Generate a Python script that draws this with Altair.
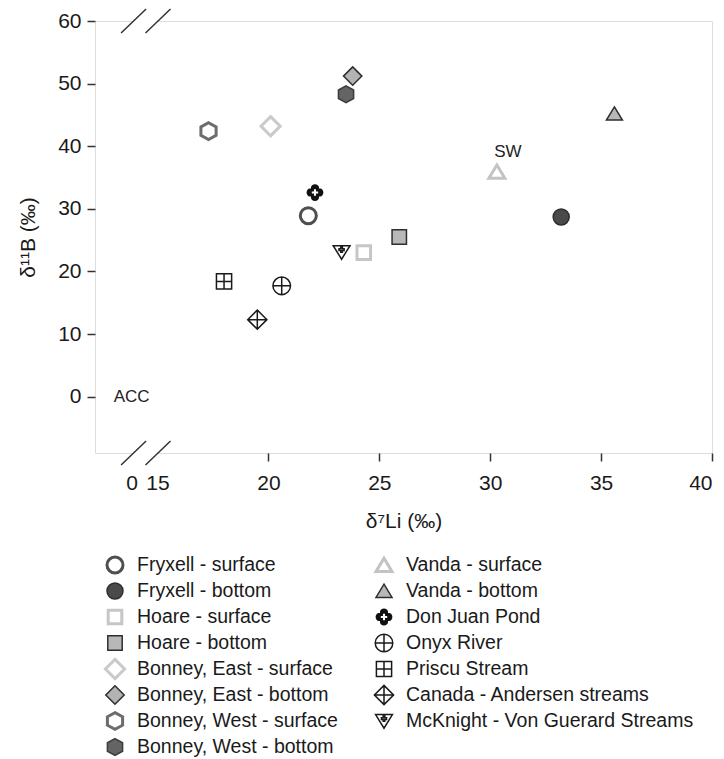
import altair as alt
import pandas as pd

# ---------------- data ----------------
names = [
    "Fryxell - surface", "Fryxell - bottom", "Hoare - surface", "Hoare - bottom",
    "Bonney, East - surface", "Bonney, East - bottom", "Bonney, West - surface",
    "Bonney, West - bottom", "Vanda - surface", "Vanda - bottom", "Don Juan Pond",
    "Onyx River", "Priscu Stream", "Canada - Andersen streams",
    "McKnight - Von Guerard Streams",
]
li = [21.8, 33.2, 24.3, 25.9, 20.1, 23.8, 17.3, 23.5, 30.3, 35.6, 22.1, 20.6, 18.0, 19.5, 23.3]
b = [28.9, 28.7, 23.0, 25.5, 43.2, 51.2, 42.4, 48.3, 35.9, 45.2, 32.6, 17.7, 18.4, 12.3, 23.1]

ref_labels = ["ACC", "SW"]
ref_li = [0.0, 30.8]
ref_b = [0.0, 39.0]

x_ticks = [0, 15, 20, 25, 30, 35, 40]
y_ticks = [0, 10, 20, 30, 40, 50, 60]
x_break = [0.8, 15.0]
y_ends = [-9, 60]
legend_rows = 8

# ---------------- styles ----------------
FONT = "Liberation Sans"
TXT = "#1a1a1a"

sq_s = "M-0.85,-0.85L0.85,-0.85L0.85,0.85L-0.85,0.85Z"
sq_b = "M-0.9,-0.9L0.9,-0.9L0.9,0.9L-0.9,0.9Z"
dia_s = "M0,-1.2L1.2,0L0,1.2L-1.2,0Z"
dia_b = "M0,-1.15L1.15,0L0,1.15L-1.15,0Z"
hexa = "M0,-1.05L0.95,-0.525L0.95,0.525L0,1.05L-0.95,0.525L-0.95,-0.525Z"
tri = "M0,-0.85L1.0,0.8L-1.0,0.8Z"
donjuan = ("M-0.5,-0.5L-0.5,-0.65A0.5,0.4 0 0,1 0.5,-0.65L0.5,-0.5L0.65,-0.5"
           "A0.4,0.5 0 0,1 0.65,0.5L0.5,0.5L0.5,0.65A0.5,0.4 0 0,1 -0.5,0.65"
           "L-0.5,0.5L-0.65,0.5A0.4,0.5 0 0,1 -0.65,-0.5Z"
           "M-0.13,-0.4L-0.13,-0.13L-0.4,-0.13L-0.4,0.13L-0.13,0.13L-0.13,0.4"
           "L0.13,0.4L0.13,0.13L0.4,0.13L0.4,-0.13L0.13,-0.13L0.13,-0.4Z")
onyx = "M-1.1,0A1.1,1.1 0 1,1 1.1,0A1.1,1.1 0 1,1 -1.1,0ZM-1.1,0L1.1,0M0,-1.1L0,1.1"
priscu = "M-0.95,-0.95L0.95,-0.95L0.95,0.95L-0.95,0.95ZM-0.95,0L0.95,0M0,-0.95L0,0.95"
canada = "M0,-1.2L1.2,0L0,1.2L-1.2,0ZM-1.2,0L1.2,0M0,-1.2L0,1.2"
mcknight = ("M-1.05,-0.8L1.05,-0.8L0,0.9Z"
            "M-0.1,-0.62L0.1,-0.62L0.1,-0.4L0.32,-0.4L0.32,-0.2L0.1,-0.2L0.1,0.02"
            "L-0.1,0.02L-0.1,-0.2L-0.32,-0.2L-0.32,-0.4L-0.1,-0.4Z")

shape_range = ["circle", "circle", sq_s, sq_b, dia_s, dia_b, hexa, hexa, tri, tri,
               donjuan, onyx, priscu, canada, mcknight]
fill_range = ["white", "#4a4a4a", "white", "#b8b8b8", "white", "#b3b3b3", "white", "#646464",
              "white", "#b8b8b8", "#111111", "white", "white", "white", "white"]
stroke_range = ["#4f4f4f", "#2e2e2e", "#c6c6c6", "#2e2e2e", "#cacaca", "#2e2e2e", "#6c6c6c",
                "#3c3c3c", "#c3c3c3", "#2e2e2e", "transparent", "#1a1a1a", "#1a1a1a",
                "#1a1a1a", "#1a1a1a"]

shape_enc = alt.Shape("name:N", scale=alt.Scale(domain=names, range=shape_range), legend=None)
fill_enc = alt.Fill("name:N", scale=alt.Scale(domain=names, range=fill_range), legend=None)
stroke_enc = alt.Stroke("name:N", scale=alt.Scale(domain=names, range=stroke_range), legend=None)
sw_enc = alt.condition("indexof(datum.name, 'surface') >= 0", alt.value(3), alt.value(1.5))

W, H = 617, 432

# ---------------- tables ----------------
df = pd.DataFrame({"name": names, "li": li, "b": b})
ref_df = pd.DataFrame({"label": ref_labels, "li": ref_li, "b": ref_b})
brk_df = pd.DataFrame([{"bx": bx, "by": by} for bx in x_break for by in y_ends])
gap_df = pd.DataFrame({"x1": [min(x_break)] * 2, "x2": [max(x_break)] * 2, "by": y_ends})
leg_df = pd.DataFrame({
    "name": names,
    "col": [i // legend_rows for i in range(len(names))],
    "row": [i % legend_rows for i in range(len(names))],
})

x_scale = alt.Scale(domain=[-3, 0, 15, 40], range=[0, 36.7, 62.5, W], zero=False, nice=False)
y_scale = alt.Scale(domain=y_ends, zero=False, nice=False)

x_axis = alt.Axis(
    values=x_ticks, title="δ⁷Li (‰)", grid=False, domain=False,
    tickSize=8, tickWidth=1.5, tickColor="#333333",
    tickOpacity={"condition": {"test": "datum.value < 20", "value": 0}, "value": 1},
    labelFont=FONT, labelFontSize=21, labelColor=TXT, labelPadding=11,
    titleFont=FONT, titleFontSize=21, titleColor=TXT, titleFontWeight="normal", titlePadding=17,
)
y_axis = alt.Axis(
    values=y_ticks, title="δ¹¹B (‰)", grid=False, domain=False,
    tickSize=8, tickWidth=1.5, tickColor="#333333",
    labelFont=FONT, labelFontSize=21, labelColor=TXT, labelPadding=6,
    titleFont=FONT, titleFontSize=21, titleColor=TXT, titleFontWeight="normal", titlePadding=19,
)

points = alt.Chart(df).mark_point(opacity=1, fillOpacity=1, strokeOpacity=1, size=256).encode(
    x=alt.X("li:Q", scale=x_scale, axis=x_axis),
    y=alt.Y("b:Q", scale=y_scale, axis=y_axis),
    shape=shape_enc, fill=fill_enc, stroke=stroke_enc, strokeWidth=sw_enc,
)

refs = alt.Chart(ref_df).mark_text(font=FONT, fontSize=17, color="#222222").encode(
    x="li:Q", y="b:Q", text="label:N",
)

gaps = alt.Chart(gap_df).mark_rule(color="white", strokeWidth=5).encode(
    x="x1:Q", x2="x2:Q", y="by:Q",
)
slashes = alt.Chart(brk_df).mark_rule(
    color="#333333", strokeWidth=1.5, xOffset=-12, x2Offset=13, yOffset=12, y2Offset=-12,
).encode(x="bx:Q", x2="bx:Q", y="by:Q", y2="by:Q")

main = alt.layer(points, refs, gaps, slashes)

leg_x = alt.X("col:Q", scale=alt.Scale(domain=[0, 1], range=[20, 289]), axis=None)
leg_y = alt.Y("row:Q", scale=alt.Scale(domain=[0, legend_rows - 1], range=[544, 726]), axis=None)

leg_pts = alt.Chart(leg_df).mark_point(opacity=1, fillOpacity=1, strokeOpacity=1, size=256).encode(
    x=leg_x, y=leg_y, shape=shape_enc, fill=fill_enc, stroke=stroke_enc, strokeWidth=sw_enc,
)
leg_txt = alt.Chart(leg_df).mark_text(
    font=FONT, fontSize=19.5, color=TXT, align="left", baseline="middle", dx=22,
).encode(x=leg_x, y=leg_y, text="name:N")

legend = alt.layer(leg_pts, leg_txt)

chart = alt.layer(main, legend).resolve_scale(x="independent", y="independent").properties(
    width=W, height=H,
    autosize=alt.AutoSizeParams(type="none"),
    padding={"left": 95, "top": 21, "right": 12, "bottom": 306},
).configure_view(stroke="#333333", strokeWidth=1.5).configure(background="white")

chart.save("out.html", embed_options={"renderer": "svg", "actions": False})
